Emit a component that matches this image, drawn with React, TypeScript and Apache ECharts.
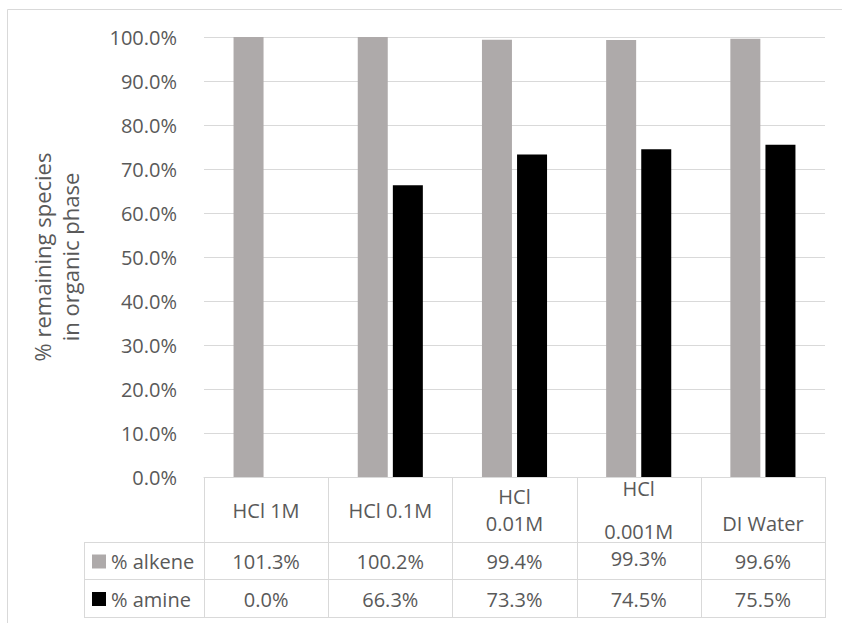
import React, { useEffect, useRef } from "react";
import * as echarts from "echarts";

const categories = ["HCl 1M", "HCl 0.1M", "HCl 0.01M", "HCl 0.001M", "DI Water"];
const tickLabels = ["HCl 1M", "HCl 0.1M", "HCl\n0.01M", "HCl\n\n0.001M", "\nDI Water"];
const seriesNames = ["% alkene", "% amine"];
const alkene = [1.013, 1.002, 0.994, 0.993, 0.996];
const amine = [0.0, 0.663, 0.733, 0.745, 0.755];
const yTicks = { min: 0, max: 1, interval: 0.1 };

const W = 842;
const H = 623;
const GRID_L = 204;
const GRID_R = 825;
const GRID_T = 37;
const GRID_B = 477;
const ROW1 = 542;
const ROW2 = 579;
const ROW3 = 617;
const LEG_L = 84;
const FONT = "'Open Sans', sans-serif";
const TEXT = "#595959";
const LINE = "#d9d9d9";
const COLORS = ["#AEAAAA", "#000000"];

const pct = (v: number) => (v * 100).toFixed(1) + "%";

export default function App() {
  const ref = useRef<HTMLDivElement>(null);
  useEffect(() => {
    if (!ref.current) return;
    const chart = echarts.init(ref.current, undefined, { renderer: "svg" });
    const n = categories.length;
    const colW = (GRID_R - GRID_L) / n;
    const values = [alkene, amine];
    const graphics: any[] = [];
    // outer chart border
    graphics.push({
      type: "rect",
      shape: { x: 7.5, y: 9.5, width: 1000, height: 1000 },
      style: { fill: "none", stroke: LINE, lineWidth: 1 },
      silent: true,
    });
    const hline = (x1: number, x2: number, y: number) =>
      graphics.push({
        type: "line",
        shape: { x1, y1: y + 0.5, x2, y2: y + 0.5 },
        style: { stroke: LINE, lineWidth: 1 },
        silent: true,
      });
    const vline = (x: number, y1: number, y2: number) =>
      graphics.push({
        type: "line",
        shape: { x1: x + 0.5, y1, x2: x + 0.5, y2 },
        style: { stroke: LINE, lineWidth: 1 },
        silent: true,
      });
    hline(LEG_L, GRID_R + 1, ROW1);
    hline(LEG_L, GRID_R + 1, ROW2);
    hline(LEG_L, GRID_R + 1, ROW3);
    vline(LEG_L, ROW1, ROW3 + 1);
    for (let i = 0; i <= n; i++) {
      vline(Math.round(GRID_L + i * colW), GRID_B, ROW3 + 1);
    }
    const rows = [ROW1, ROW2, ROW3];
    values.forEach((arr, r) => {
      const cy = (rows[r] + rows[r + 1]) / 2 + 1;
      graphics.push({
        type: "rect",
        shape: { x: 92, y: cy - 7, width: 14, height: 14 },
        style: { fill: COLORS[r] },
        silent: true,
      });
      graphics.push({
        type: "text",
        x: 111,
        y: cy,
        style: {
          text: seriesNames[r],
          fontFamily: FONT,
          fontSize: 20,
          fill: TEXT,
          align: "left",
          verticalAlign: "middle",
        },
        silent: true,
      });
      arr.forEach((v, i) => {
        graphics.push({
          type: "text",
          x: GRID_L + (i + 0.5) * colW,
          y: cy - (i === 3 && r === 0 ? 3 : 0),
          style: {
            text: pct(v),
            fontFamily: FONT,
            fontSize: 20,
            fill: TEXT,
            align: "center",
            verticalAlign: "middle",
          },
          silent: true,
        });
      });
    });

    const labelStyle = {
      margin: 33,
      verticalAlign: "middle",
      lineHeight: 27,
      fontFamily: FONT,
      fontSize: 20,
      color: TEXT,
    };

    chart.setOption({
      animation: false,
      grid: {
        left: GRID_L,
        right: W - GRID_R,
        top: GRID_T,
        bottom: H - GRID_B,
        containLabel: false,
      },
      xAxis: {
        type: "category",
        data: categories.map((c, i) =>
          i === 3
            ? {
                value: tickLabels[i],
                textStyle: {
                  fontFamily: FONT,
                  fontSize: 20,
                  color: TEXT,
                  verticalAlign: "middle",
                  lineHeight: 21.5,
                  padding: [10, 0, 0, 0],
                },
              }
            : tickLabels[i]
        ),
        axisLine: { show: true, lineStyle: { color: LINE, width: 1 } },
        axisTick: { show: false },
        axisLabel: { interval: 0, ...labelStyle },
      },
      yAxis: {
        type: "value",
        min: yTicks.min,
        max: yTicks.max,
        interval: yTicks.interval,
        name: "% remaining species\nin organic phase",
        nameLocation: "middle",
        nameRotate: 90,
        nameGap: 120,
        nameTextStyle: { fontFamily: FONT, fontSize: 22, color: TEXT, lineHeight: 28 },
        axisLine: { show: false },
        axisTick: { show: false },
        splitLine: { lineStyle: { color: LINE, width: 1 } },
        axisLabel: {
          margin: 27,
          fontFamily: FONT,
          fontSize: 20,
          color: TEXT,
          formatter: (v: number) => pct(v),
        },
      },
      series: [
        {
          name: seriesNames[0],
          type: "bar",
          data: alkene,
          barWidth: 30,
          barGap: "17%",
          clip: true,
          itemStyle: { color: COLORS[0] },
        },
        {
          name: seriesNames[1],
          type: "bar",
          data: amine,
          barWidth: 30,
          clip: true,
          itemStyle: { color: COLORS[1] },
        },
      ],
      graphic: graphics,
    });
    return () => chart.dispose();
  }, []);
  return (
    <div
      ref={ref}
      style={{ position: "absolute", left: 0, top: 0, width: W, height: H, background: "#fff" }}
    />
  );
}
